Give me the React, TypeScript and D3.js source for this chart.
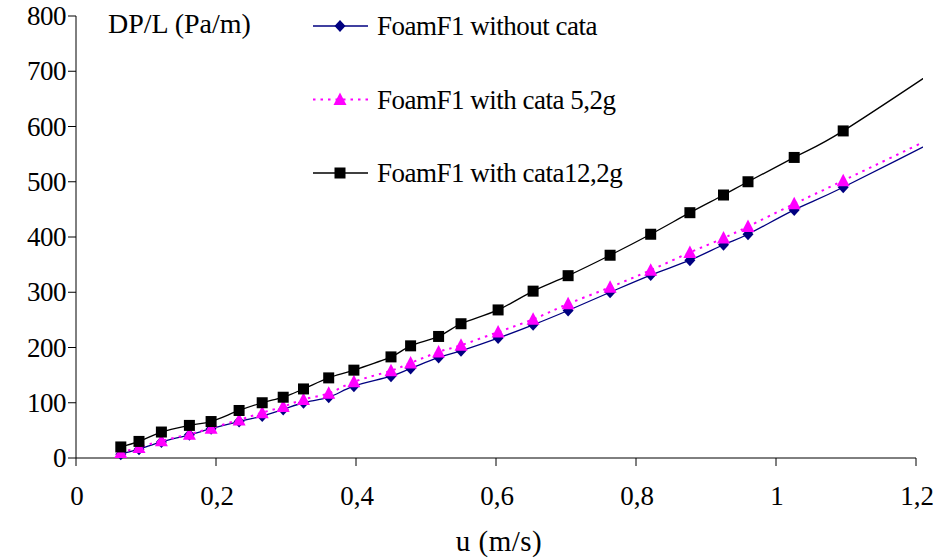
import React from 'react';
import * as d3 from 'd3';

const uValues = [0.064, 0.09, 0.122, 0.162, 0.193, 0.233, 0.266, 0.296, 0.325, 0.361, 0.397, 0.45, 0.478, 0.518, 0.55, 0.603, 0.653, 0.703, 0.763, 0.821, 0.877, 0.925, 0.96, 1.026, 1.096, 1.26];
const withoutCata = [7, 16, 29, 42, 53, 66, 76, 88, 100, 110, 130, 148, 162, 182, 194, 217, 241, 267, 300, 331, 358, 386, 405, 449, 490, 595];
const cata52 = [10, 19, 31, 43, 54, 69, 82, 93, 106, 117, 138, 158, 172, 192, 204, 228, 251, 279, 309, 340, 372, 398, 419, 460, 502, 602];
const cata122 = [20, 30, 47, 59, 66, 86, 100, 110, 125, 145, 159, 183, 203, 220, 243, 268, 302, 330, 367, 405, 444, 476, 500, 544, 592, 729];

const xTicks = [0, 0.2, 0.4, 0.6, 0.8, 1, 1.2];
const xTickLabels = ['0', '0,2', '0,4', '0,6', '0,8', '1', '1,2'];
const yTicks = [0, 100, 200, 300, 400, 500, 600, 700, 800];
const seriesNames = ['FoamF1 without cata', 'FoamF1 with cata 5,2g', 'FoamF1 with cata12,2g'];
const yTitle = 'DP/L (Pa/m)';
const xTitle = 'u (m/s)';

const FONT = "'Liberation Serif', 'Times New Roman', Times, serif";

type Shape = 'diamond' | 'triangle' | 'square';

function Marker({ shape, cx, cy, color }: { shape: Shape; cx: number; cy: number; color: string }) {
  if (shape === 'diamond') {
    return <path d={`M${cx},${cy - 6}L${cx + 5.5},${cy}L${cx},${cy + 6}L${cx - 5.5},${cy}Z`} fill={color} />;
  }
  if (shape === 'triangle') {
    return <path d={`M${cx},${cy - 7}L${cx + 6.5},${cy + 5.5}L${cx - 6.5},${cy + 5.5}Z`} fill={color} />;
  }
  return <rect x={cx - 5.5} y={cy - 5.5} width={11} height={11} fill={color} />;
}

const textStyle = { fontFamily: FONT };

export default function App() {
  const x = d3.scaleLinear().domain([0, 1.2]).range([76, 916]);
  const y = d3.scaleLinear().domain([0, 800]).range([458, 16]);

  const series = [
    { name: seriesNames[0], values: withoutCata, color: '#000080', markerColor: '#000080', shape: 'diamond' as Shape, dash: undefined, width: 1.3 },
    { name: seriesNames[1], values: cata52, color: '#FF00FF', markerColor: '#FF00FF', shape: 'triangle' as Shape, dash: '2.5,5', width: 2 },
    { name: seriesNames[2], values: cata122, color: '#000000', markerColor: '#000000', shape: 'square' as Shape, dash: undefined, width: 1.3 },
  ];

  const line = d3
    .line<[number, number]>()
    .x((d) => x(d[0]))
    .y((d) => y(d[1]))
    .curve(d3.curveCardinal.tension(0));

  const legendY = [26, 99.5, 173];

  return (
    <svg width={949} height={560} style={{ position: 'absolute', left: 0, top: 0, background: '#fff' }}>
      <defs>
        <clipPath id="plotClip">
          <rect x={76} y={0} width={847} height={458} />
        </clipPath>
      </defs>
      <rect x={0} y={0} width={949} height={560} fill="#fff" />

      {/* axes */}
      <line x1={76} y1={y(800)} x2={76} y2={y(0)} stroke="#000" strokeWidth={1} />
      <line x1={76} y1={y(0)} x2={x(1.2)} y2={y(0)} stroke="#000" strokeWidth={1} />
      {yTicks.map((t) => (
        <g key={'y' + t}>
          <line x1={68} x2={76} y1={y(t)} y2={y(t)} stroke="#000" />
          <text x={66} y={y(t) + 9} textAnchor="end" fontSize={27} fill="#000" letterSpacing={-0.5} style={textStyle}>
            {t}
          </text>
        </g>
      ))}
      {xTicks.map((t, i) => (
        <g key={'x' + t}>
          <line x1={x(t)} x2={x(t)} y1={458} y2={466} stroke="#000" />
          <text x={x(t) + 1} y={505} textAnchor="middle" fontSize={27} fill="#000" letterSpacing={0} style={textStyle}>
            {xTickLabels[i]}
          </text>
        </g>
      ))}
      <text x={499} y={551} textAnchor="middle" fontSize={29} fill="#000" letterSpacing={0.5} style={textStyle}>
        {xTitle}
      </text>
      <text x={108} y={33} fontSize={28} fill="#000" letterSpacing={0} style={textStyle}>
        {yTitle}
      </text>

      {/* series */}
      {series.map((s) => {
        const pts = uValues.map((u, i) => [u, s.values[i]] as [number, number]);
        return (
          <g key={s.name}>
            <path
              d={line(pts) || ''}
              fill="none"
              stroke={s.color}
              strokeWidth={s.width}
              strokeDasharray={s.dash}
              clipPath="url(#plotClip)"
            />
            {pts
              .filter((p) => p[0] <= 1.2)
              .map((p, i) => (
                <Marker key={i} shape={s.shape} cx={x(p[0])} cy={y(p[1])} color={s.markerColor} />
              ))}
          </g>
        );
      })}

      {/* legend */}
      {series.map((s, i) => (
        <g key={'leg' + i}>
          <line x1={313} x2={368} y1={legendY[i]} y2={legendY[i]} stroke={s.color} strokeWidth={s.width} strokeDasharray={s.dash} />
          <Marker shape={s.shape} cx={340} cy={legendY[i]} color={s.markerColor} />
          <text x={377} y={legendY[i] + 9} fontSize={27} fill="#000" letterSpacing={-0.5} style={textStyle}>
            {s.name}
          </text>
        </g>
      ))}
    </svg>
  );
}
